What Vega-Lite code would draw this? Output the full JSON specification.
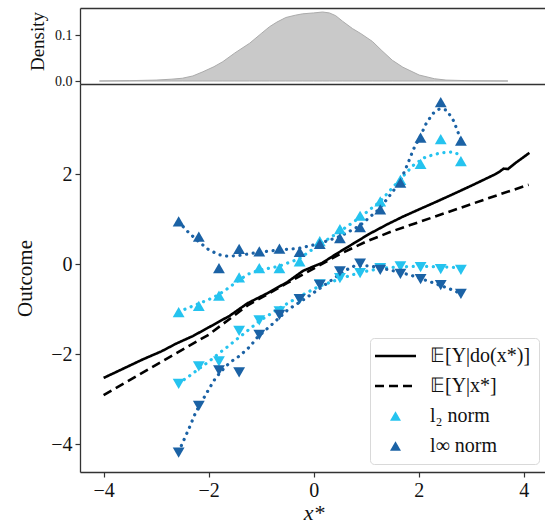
{
  "$schema": "https://vega.github.io/schema/vega-lite/v6.json",
  "background": "white",
  "padding": {"left": 14, "top": 8, "right": 0, "bottom": 2},
  "autosize": {"type": "pad"},
  "config": {
    "font": "Liberation Serif",
    "view": {"stroke": null},
    "axis": {
      "grid": false,
      "domainColor": "#333333",
      "domainWidth": 1.3,
      "tickColor": "#333333",
      "tickWidth": 1.2,
      "tickSize": 5,
      "labelColor": "#111111",
      "titleColor": "#111111",
      "labelFont": "Liberation Serif",
      "titleFont": "Liberation Serif",
      "titleFontWeight": "normal"
    }
  },
  "spacing": 0,
  "bounds": "flush",
  "resolve": {"scale": {"color": "independent"}, "legend": {"color": "independent"}},
  "datasets": {
    "density": [
      {"x": -4.08, "d": 0.0}, {"x": -3.5, "d": 0.0008}, {"x": -3.0, "d": 0.002}, {"x": -2.7, "d": 0.004},
      {"x": -2.5, "d": 0.006}, {"x": -2.3, "d": 0.011}, {"x": -2.11, "d": 0.02}, {"x": -1.9, "d": 0.031},
      {"x": -1.73, "d": 0.042}, {"x": -1.5, "d": 0.061}, {"x": -1.22, "d": 0.082}, {"x": -1.0, "d": 0.103},
      {"x": -0.84, "d": 0.118}, {"x": -0.7, "d": 0.128}, {"x": -0.53, "d": 0.138}, {"x": -0.35, "d": 0.143},
      {"x": -0.21, "d": 0.146}, {"x": 0.0, "d": 0.148}, {"x": 0.17, "d": 0.15}, {"x": 0.3, "d": 0.148},
      {"x": 0.42, "d": 0.142}, {"x": 0.55, "d": 0.13}, {"x": 0.74, "d": 0.114}, {"x": 0.9, "d": 0.103},
      {"x": 1.12, "d": 0.086}, {"x": 1.3, "d": 0.066}, {"x": 1.5, "d": 0.045}, {"x": 1.7, "d": 0.03},
      {"x": 2.01, "d": 0.013}, {"x": 2.3, "d": 0.005}, {"x": 2.52, "d": 0.002}, {"x": 3.0, "d": 0.0005},
      {"x": 3.7, "d": 0.0}
    ],
    "lines": [
      {"series": "do", "x": -4.0, "y": -2.53}, {"series": "do", "x": -3.6, "y": -2.31}, {"series": "do", "x": -3.257, "y": -2.12},
      {"series": "do", "x": -2.9, "y": -1.94}, {"series": "do", "x": -2.622, "y": -1.77}, {"series": "do", "x": -2.3, "y": -1.6},
      {"series": "do", "x": -1.987, "y": -1.4}, {"series": "do", "x": -1.6, "y": -1.15}, {"series": "do", "x": -1.257, "y": -0.87},
      {"series": "do", "x": -0.9, "y": -0.66}, {"series": "do", "x": -0.5, "y": -0.4}, {"series": "do", "x": -0.2, "y": -0.15},
      {"series": "do", "x": 0.171, "y": 0.03}, {"series": "do", "x": 0.425, "y": 0.22}, {"series": "do", "x": 0.75, "y": 0.45},
      {"series": "do", "x": 1.061, "y": 0.67}, {"series": "do", "x": 1.4, "y": 0.88}, {"series": "do", "x": 1.695, "y": 1.05},
      {"series": "do", "x": 2.0, "y": 1.21}, {"series": "do", "x": 2.33, "y": 1.38}, {"series": "do", "x": 2.65, "y": 1.55},
      {"series": "do", "x": 2.966, "y": 1.72}, {"series": "do", "x": 3.2, "y": 1.85}, {"series": "do", "x": 3.45, "y": 1.99},
      {"series": "do", "x": 3.55, "y": 2.06}, {"series": "do", "x": 3.62, "y": 2.12}, {"series": "do", "x": 3.7, "y": 2.11},
      {"series": "do", "x": 3.85, "y": 2.25}, {"series": "do", "x": 4.11, "y": 2.47},
      {"series": "obs", "x": -4.0, "y": -2.91}, {"series": "obs", "x": -3.0, "y": -2.24}, {"series": "obs", "x": -2.0, "y": -1.57},
      {"series": "obs", "x": -1.257, "y": -0.92}, {"series": "obs", "x": -0.5, "y": -0.42}, {"series": "obs", "x": 0.0, "y": -0.1},
      {"series": "obs", "x": 0.5, "y": 0.22}, {"series": "obs", "x": 1.0, "y": 0.5}, {"series": "obs", "x": 1.5, "y": 0.73},
      {"series": "obs", "x": 2.0, "y": 0.93}, {"series": "obs", "x": 2.5, "y": 1.13}, {"series": "obs", "x": 3.0, "y": 1.33},
      {"series": "obs", "x": 3.5, "y": 1.53}, {"series": "obs", "x": 4.095, "y": 1.76}
    ],
    "fits": [
      {"series": "l2", "bound": "upper", "x": -2.571, "y": -1.06}, {"series": "l2", "bound": "upper", "x": -2.381, "y": -0.97},
      {"series": "l2", "bound": "upper", "x": -2.19, "y": -0.88}, {"series": "l2", "bound": "upper", "x": -2.0, "y": -0.79},
      {"series": "l2", "bound": "upper", "x": -1.81, "y": -0.68}, {"series": "l2", "bound": "upper", "x": -1.619, "y": -0.53},
      {"series": "l2", "bound": "upper", "x": -1.429, "y": -0.36}, {"series": "l2", "bound": "upper", "x": -1.238, "y": -0.22},
      {"series": "l2", "bound": "upper", "x": -1.048, "y": -0.14}, {"series": "l2", "bound": "upper", "x": -0.667, "y": -0.05},
      {"series": "l2", "bound": "upper", "x": -0.286, "y": 0.11}, {"series": "l2", "bound": "upper", "x": 0.095, "y": 0.42},
      {"series": "l2", "bound": "upper", "x": 0.495, "y": 0.72}, {"series": "l2", "bound": "upper", "x": 0.876, "y": 1.03},
      {"series": "l2", "bound": "upper", "x": 1.257, "y": 1.38}, {"series": "l2", "bound": "upper", "x": 1.638, "y": 1.87},
      {"series": "l2", "bound": "upper", "x": 1.905, "y": 2.2}, {"series": "l2", "bound": "upper", "x": 2.133, "y": 2.38},
      {"series": "l2", "bound": "upper", "x": 2.419, "y": 2.47}, {"series": "l2", "bound": "upper", "x": 2.667, "y": 2.49},
      {"series": "l2", "bound": "upper", "x": 2.805, "y": 2.41},
      {"series": "l2", "bound": "lower", "x": -2.571, "y": -2.65}, {"series": "l2", "bound": "lower", "x": -2.381, "y": -2.5},
      {"series": "l2", "bound": "lower", "x": -2.19, "y": -2.33}, {"series": "l2", "bound": "lower", "x": -2.0, "y": -2.17},
      {"series": "l2", "bound": "lower", "x": -1.81, "y": -1.99}, {"series": "l2", "bound": "lower", "x": -1.619, "y": -1.82},
      {"series": "l2", "bound": "lower", "x": -1.429, "y": -1.64}, {"series": "l2", "bound": "lower", "x": -1.238, "y": -1.46},
      {"series": "l2", "bound": "lower", "x": -1.048, "y": -1.28}, {"series": "l2", "bound": "lower", "x": -0.667, "y": -0.99},
      {"series": "l2", "bound": "lower", "x": -0.286, "y": -0.73}, {"series": "l2", "bound": "lower", "x": 0.095, "y": -0.5},
      {"series": "l2", "bound": "lower", "x": 0.495, "y": -0.33}, {"series": "l2", "bound": "lower", "x": 0.876, "y": -0.19},
      {"series": "l2", "bound": "lower", "x": 1.257, "y": -0.1}, {"series": "l2", "bound": "lower", "x": 1.638, "y": -0.06},
      {"series": "l2", "bound": "lower", "x": 2.019, "y": -0.05}, {"series": "l2", "bound": "lower", "x": 2.4, "y": -0.06},
      {"series": "l2", "bound": "lower", "x": 2.805, "y": -0.08},
      {"series": "linf", "bound": "upper", "x": -2.571, "y": 0.94}, {"series": "linf", "bound": "upper", "x": -2.381, "y": 0.7},
      {"series": "linf", "bound": "upper", "x": -2.19, "y": 0.5}, {"series": "linf", "bound": "upper", "x": -2.0, "y": 0.32},
      {"series": "linf", "bound": "upper", "x": -1.81, "y": 0.21}, {"series": "linf", "bound": "upper", "x": -1.619, "y": 0.17},
      {"series": "linf", "bound": "upper", "x": -1.429, "y": 0.19}, {"series": "linf", "bound": "upper", "x": -1.048, "y": 0.26},
      {"series": "linf", "bound": "upper", "x": -0.667, "y": 0.31}, {"series": "linf", "bound": "upper", "x": -0.286, "y": 0.35},
      {"series": "linf", "bound": "upper", "x": 0.095, "y": 0.45}, {"series": "linf", "bound": "upper", "x": 0.495, "y": 0.61},
      {"series": "linf", "bound": "upper", "x": 0.876, "y": 0.85}, {"series": "linf", "bound": "upper", "x": 1.257, "y": 1.23},
      {"series": "linf", "bound": "upper", "x": 1.638, "y": 1.81}, {"series": "linf", "bound": "upper", "x": 1.79, "y": 2.22},
      {"series": "linf", "bound": "upper", "x": 1.905, "y": 2.56}, {"series": "linf", "bound": "upper", "x": 2.038, "y": 2.85},
      {"series": "linf", "bound": "upper", "x": 2.133, "y": 3.1}, {"series": "linf", "bound": "upper", "x": 2.267, "y": 3.34},
      {"series": "linf", "bound": "upper", "x": 2.4, "y": 3.45}, {"series": "linf", "bound": "upper", "x": 2.533, "y": 3.42},
      {"series": "linf", "bound": "upper", "x": 2.667, "y": 3.18}, {"series": "linf", "bound": "upper", "x": 2.805, "y": 2.76},
      {"series": "linf", "bound": "lower", "x": -2.571, "y": -4.17}, {"series": "linf", "bound": "lower", "x": -2.495, "y": -3.97},
      {"series": "linf", "bound": "lower", "x": -2.362, "y": -3.62}, {"series": "linf", "bound": "lower", "x": -2.248, "y": -3.3},
      {"series": "linf", "bound": "lower", "x": -2.114, "y": -3.02}, {"series": "linf", "bound": "lower", "x": -1.981, "y": -2.75},
      {"series": "linf", "bound": "lower", "x": -1.867, "y": -2.53}, {"series": "linf", "bound": "lower", "x": -1.733, "y": -2.35},
      {"series": "linf", "bound": "lower", "x": -1.6, "y": -2.19}, {"series": "linf", "bound": "lower", "x": -1.41, "y": -2.04},
      {"series": "linf", "bound": "lower", "x": -1.219, "y": -1.84}, {"series": "linf", "bound": "lower", "x": -1.067, "y": -1.62},
      {"series": "linf", "bound": "lower", "x": -0.838, "y": -1.39}, {"series": "linf", "bound": "lower", "x": -0.495, "y": -1.02},
      {"series": "linf", "bound": "lower", "x": -0.114, "y": -0.73}, {"series": "linf", "bound": "lower", "x": 0.267, "y": -0.42},
      {"series": "linf", "bound": "lower", "x": 0.59, "y": -0.15}, {"series": "linf", "bound": "lower", "x": 0.781, "y": -0.04},
      {"series": "linf", "bound": "lower", "x": 1.067, "y": -0.04}, {"series": "linf", "bound": "lower", "x": 1.448, "y": -0.13},
      {"series": "linf", "bound": "lower", "x": 1.829, "y": -0.24}, {"series": "linf", "bound": "lower", "x": 2.21, "y": -0.39},
      {"series": "linf", "bound": "lower", "x": 2.59, "y": -0.55}, {"series": "linf", "bound": "lower", "x": 2.805, "y": -0.66}
    ],
    "points": [
      {"series": "l2", "bound": "upper", "x": -2.571, "y": -1.067}, {"series": "l2", "bound": "upper", "x": -2.187, "y": -0.927},
      {"series": "l2", "bound": "upper", "x": -1.803, "y": -0.704}, {"series": "l2", "bound": "upper", "x": -1.419, "y": -0.298},
      {"series": "l2", "bound": "upper", "x": -1.035, "y": -0.089}, {"series": "l2", "bound": "upper", "x": -0.651, "y": -0.089},
      {"series": "l2", "bound": "upper", "x": -0.267, "y": 0.058}, {"series": "l2", "bound": "upper", "x": 0.117, "y": 0.507},
      {"series": "l2", "bound": "upper", "x": 0.501, "y": 0.778}, {"series": "l2", "bound": "upper", "x": 0.885, "y": 1.073},
      {"series": "l2", "bound": "upper", "x": 1.269, "y": 1.391}, {"series": "l2", "bound": "upper", "x": 1.653, "y": 1.87},
      {"series": "l2", "bound": "upper", "x": 2.037, "y": 2.224}, {"series": "l2", "bound": "upper", "x": 2.421, "y": 2.773},
      {"series": "l2", "bound": "upper", "x": 2.805, "y": 2.289},
      {"series": "l2", "bound": "lower", "x": -2.571, "y": -2.66}, {"series": "l2", "bound": "lower", "x": -2.187, "y": -2.276},
      {"series": "l2", "bound": "lower", "x": -1.803, "y": -2.164}, {"series": "l2", "bound": "lower", "x": -1.419, "y": -1.482},
      {"series": "l2", "bound": "lower", "x": -1.035, "y": -1.249}, {"series": "l2", "bound": "lower", "x": -0.651, "y": -1.05},
      {"series": "l2", "bound": "lower", "x": -0.267, "y": -0.78}, {"series": "l2", "bound": "lower", "x": 0.117, "y": -0.45},
      {"series": "l2", "bound": "lower", "x": 0.501, "y": -0.311}, {"series": "l2", "bound": "lower", "x": 0.885, "y": -0.2},
      {"series": "l2", "bound": "lower", "x": 1.269, "y": -0.089}, {"series": "l2", "bound": "lower", "x": 1.653, "y": -0.053},
      {"series": "l2", "bound": "lower", "x": 2.037, "y": -0.067}, {"series": "l2", "bound": "lower", "x": 2.421, "y": -0.111},
      {"series": "l2", "bound": "lower", "x": 2.805, "y": -0.127},
      {"series": "linf", "bound": "upper", "x": -2.571, "y": 0.947}, {"series": "linf", "bound": "upper", "x": -2.187, "y": 0.607},
      {"series": "linf", "bound": "upper", "x": -1.803, "y": -0.093}, {"series": "linf", "bound": "upper", "x": -1.419, "y": 0.336},
      {"series": "linf", "bound": "upper", "x": -1.035, "y": 0.28}, {"series": "linf", "bound": "upper", "x": -0.651, "y": 0.34},
      {"series": "linf", "bound": "upper", "x": -0.267, "y": 0.273}, {"series": "linf", "bound": "upper", "x": 0.117, "y": 0.45},
      {"series": "linf", "bound": "upper", "x": 0.501, "y": 0.578}, {"series": "linf", "bound": "upper", "x": 0.885, "y": 0.818},
      {"series": "linf", "bound": "upper", "x": 1.269, "y": 1.213}, {"series": "linf", "bound": "upper", "x": 1.653, "y": 1.807},
      {"series": "linf", "bound": "upper", "x": 2.037, "y": 2.807}, {"series": "linf", "bound": "upper", "x": 2.421, "y": 3.596},
      {"series": "linf", "bound": "upper", "x": 2.805, "y": 2.74},
      {"series": "linf", "bound": "lower", "x": -2.571, "y": -4.187}, {"series": "linf", "bound": "lower", "x": -2.187, "y": -3.149},
      {"series": "linf", "bound": "lower", "x": -1.803, "y": -2.364}, {"series": "linf", "bound": "lower", "x": -1.419, "y": -2.409},
      {"series": "linf", "bound": "lower", "x": -1.035, "y": -1.571}, {"series": "linf", "bound": "lower", "x": -0.651, "y": -1.127},
      {"series": "linf", "bound": "lower", "x": -0.267, "y": -0.778}, {"series": "linf", "bound": "lower", "x": 0.117, "y": -0.46},
      {"series": "linf", "bound": "lower", "x": 0.501, "y": -0.164}, {"series": "linf", "bound": "lower", "x": 0.885, "y": 0.007},
      {"series": "linf", "bound": "lower", "x": 1.269, "y": -0.127}, {"series": "linf", "bound": "lower", "x": 1.653, "y": -0.216},
      {"series": "linf", "bound": "lower", "x": 2.037, "y": -0.333}, {"series": "linf", "bound": "lower", "x": 2.421, "y": -0.471},
      {"series": "linf", "bound": "lower", "x": 2.805, "y": -0.66}
    ]
  },
  "vconcat": [
    {
      "width": 467,
      "height": 76,
      "data": {"name": "density"},
      "mark": {"type": "area", "fill": "#c9c9c9", "stroke": "#ababab", "strokeWidth": 1},
      "encoding": {
        "x": {
          "field": "x", "type": "quantitative",
          "scale": {"domain": [-4.45, 4.445], "nice": false, "zero": false},
          "axis": {"orient": "top", "labels": false, "ticks": false, "title": null, "domain": true}
        },
        "y": {
          "field": "d", "type": "quantitative",
          "scale": {"domain": [-0.0065, 0.1587], "nice": false, "zero": false},
          "axis": {"values": [0, 0.1], "format": ".1f", "labelFontSize": 14, "labelPadding": 3,
                   "title": "Density", "titleFontSize": 19, "titleX": -43, "titleY": 33, "titleBaseline": "middle"}
        },
        "y2": {"datum": 0}
      }
    },
    {
      "width": 467,
      "height": 388,
      "resolve": {"axis": {"x": "independent"}},
      "layer": [
        {
          "data": {"name": "lines"},
          "mark": {"type": "line", "strokeWidth": 2.6},
          "encoding": {
            "x": {
              "field": "x", "type": "quantitative",
              "scale": {"domain": [-4.45, 4.445], "nice": false, "zero": false},
              "axis": {"orient": "bottom", "values": [-4, -2, 0, 2, 4], "labelFontSize": 20, "labelPadding": 3,
                       "title": "x*", "titleFontSize": 22, "titleFontStyle": "italic", "titlePadding": 2}
            },
            "y": {
              "field": "y", "type": "quantitative",
              "scale": {"domain": [-4.62, 4.0], "nice": false, "zero": false},
              "axis": {"values": [-4, -2, 0, 2], "labelFontSize": 20, "labelPadding": 3,
                       "title": "Outcome", "titleFontSize": 21, "titleX": -55, "titleBaseline": "middle"}
            },
            "color": {
              "field": "series", "type": "nominal",
              "scale": {"domain": ["do", "obs", "l2", "linf"], "range": ["#000000", "#000000", "#25c3ef", "#1b62a5"]},
              "legend": {
                "title": null,
                "orient": "bottom-right",
                "offset": 8,
                "fillColor": "white",
                "strokeColor": "#d9d9d9",
                "cornerRadius": 4,
                "padding": 8,
                "rowPadding": 10,
                "labelFont": "Liberation Serif",
                "labelFontSize": 20,
                "labelColor": "#111111",
                "symbolSize": 900,
                "symbolOffset": 7.5,
                "labelOffset": 24.5,
                "labelExpr": "datum.value == 'do' ? '𝔼[Y|do(x*)]' : datum.value == 'obs' ? '𝔼[Y|x*]' : datum.value == 'l2' ? 'l₂ norm' : 'l∞ norm'",
                "encode": {
                  "symbols": {
                    "update": {
                      "shape": {"signal": "datum.value == 'do' || datum.value == 'obs' ? 'stroke' : 'triangle-up'"},
                      "size": {"signal": "datum.value == 'do' || datum.value == 'obs' ? 1681 : 120"},
                      "stroke": {"signal": "datum.value == 'do' || datum.value == 'obs' ? '#000000' : 'transparent'"},
                      "fill": {"signal": "datum.value == 'l2' ? '#25c3ef' : datum.value == 'linf' ? '#1b62a5' : 'transparent'"},
                      "strokeWidth": {"signal": "datum.value == 'do' || datum.value == 'obs' ? 2.6 : 0"},
                      "strokeDash": {"signal": "datum.value == 'obs' ? [9, 5] : [1, 0]"},
                      "opacity": {"value": 1}
                    }
                  }
                }
              }
            },
            "strokeDash": {
              "field": "series", "type": "nominal",
              "scale": {"domain": ["do", "obs"], "range": [[1, 0], [9, 5]]},
              "legend": null
            }
          }
        },
        {
          "data": {"name": "fits"},
          "mark": {"type": "line", "strokeWidth": 3.2, "strokeDash": [0.1, 6.6], "strokeCap": "round"},
          "encoding": {
            "x": {"field": "x", "type": "quantitative", "axis": null},
            "y": {"field": "y", "type": "quantitative"},
            "color": {"field": "series", "type": "nominal"},
            "detail": {"field": "bound", "type": "nominal"}
          }
        },
        {
          "data": {"name": "points"},
          "mark": {"type": "point", "filled": true, "opacity": 1, "size": 140, "strokeWidth": 0},
          "encoding": {
            "x": {
              "field": "x", "type": "quantitative",
              "axis": {"orient": "top", "labels": false, "ticks": false, "title": null, "domain": true}
            },
            "y": {"field": "y", "type": "quantitative"},
            "color": {"field": "series", "type": "nominal"},
            "shape": {
              "field": "bound", "type": "nominal",
              "scale": {"domain": ["upper", "lower"], "range": ["triangle-up", "triangle-down"]},
              "legend": null
            }
          }
        }
      ]
    }
  ]
}
